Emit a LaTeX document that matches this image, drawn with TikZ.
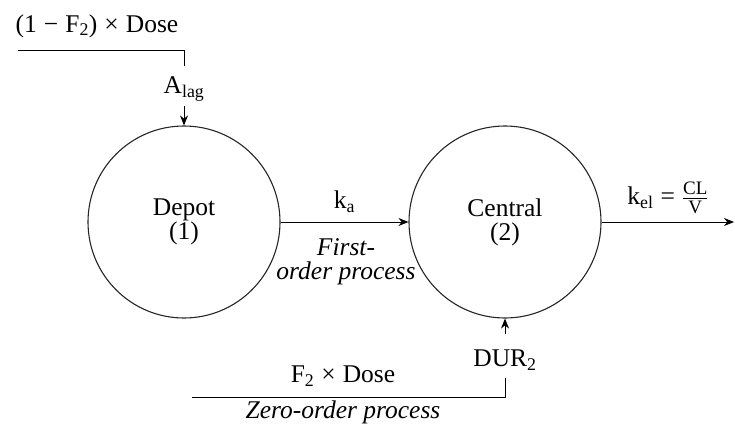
\documentclass[tikz,border=0pt]{standalone}
\usepackage{fontspec}
\setmainfont{Liberation Serif}
\usetikzlibrary{arrows.meta}
\newcommand{\fsz}{\fontsize{25.5}{24}\selectfont}
\newcommand{\ssz}{\fontsize{19}{19}\selectfont}
\newcommand{\gap}{\hspace{7pt}}
\begin{document}
\begin{tikzpicture}[x=1pt,y=-1pt,
  comp/.style={circle,draw=black!85,line width=1.1pt,minimum size=192pt,inner sep=0pt,align=center,font=\fsz},
  lab/.style={inner sep=0pt,font=\fsz,align=center},
  ital/.style={inner sep=0pt,font=\fsz\itshape,align=center},
  wire/.style={line width=0.9pt},
  arr/.style={line width=0.9pt,-{Stealth[length=10pt,width=8pt]}}]
\useasboundingbox (0,0) rectangle (735,423);
\node[comp] (depot) at (184,222) {Depot\\(1)};
\node[comp] (central) at (505,222) {Central\\(2)};
% oral dose
\node[lab] (dose1) at (97,26) {(1\gap−\gap F\textsubscript{2})\gap×\gap Dose};
\coordinate (s1) at (18,50);
\coordinate (c1) at (184,50);
\coordinate (e1) at (184,66);
\node[lab] (alag) at (184,89) {A\textsubscript{lag}};
\coordinate (a1) at (184,106);
\draw[wire] (s1) -- (c1) -- (e1);
\draw[arr] (a1) -- (depot.north);
% absorption
\draw[arr] (depot.east) -- (central.west) node[midway,above=9pt,lab] (ka) {k\textsubscript{a}};
\node[ital] (first) at (346,262) {First-\\order process};
% elimination
\coordinate (out) at (734,222);
\draw[arr] (central.east) -- (out);
\node[lab] (kel) at (668,198) {k\textsubscript{el}\gap=\gap$\frac{\hbox{\ssz CL}}{\hbox{\ssz V}}$};
% zero order
\node[lab] (dose2) at (343,376) {F\textsubscript{2}\gap×\gap Dose};
\node[ital] (zero) at (343,412) {Zero-order process};
\coordinate (s2) at (192,397);
\coordinate (c2) at (505,397);
\coordinate (e2) at (505,378);
\draw[wire] (s2) -- (c2) -- (e2);
\node[lab] (dur) at (505,360) {DUR\textsubscript{2}};
\coordinate (a2) at (505,334);
\draw[arr] (a2) -- (central.south);
\end{tikzpicture}
\end{document}
